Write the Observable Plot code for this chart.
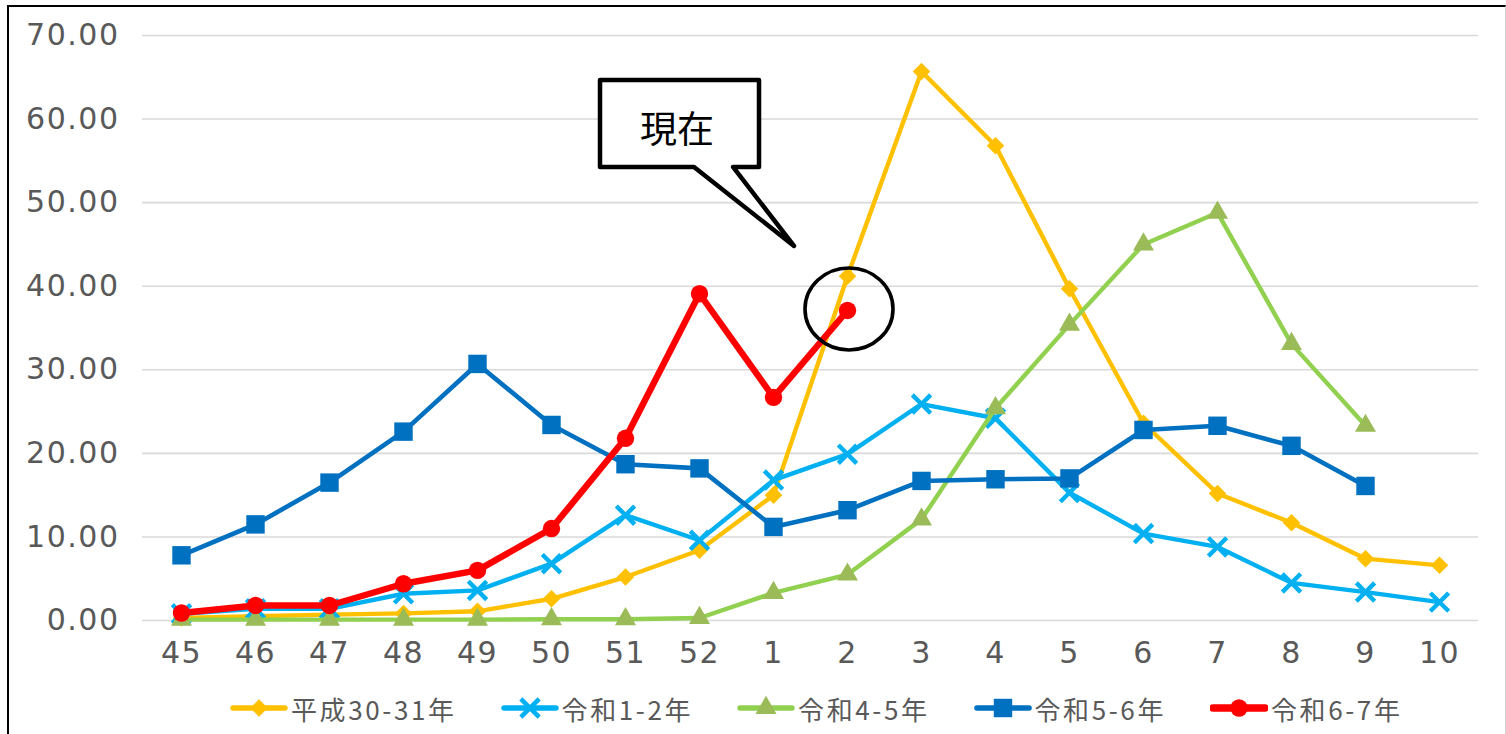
<!DOCTYPE html>
<html>
<head>
<meta charset="utf-8">
<script src="https://cdn.jsdelivr.net/npm/d3@7"></script>
<script src="https://cdn.jsdelivr.net/npm/@observablehq/plot@0.6"></script>
<style>
  html, body { margin: 0; padding: 0; background: #fff; overflow: hidden; width: 1506px; height: 734px; }
  #frame { position: absolute; left: 7px; top: 5px; width: 1499px; height: 800px; box-sizing: border-box;
           border-top: 2px solid #000; border-left: 2px solid #000; border-right: 1px solid #d0d0d0; }
  #chart { position: absolute; left: 0; top: 0; }
  #chart svg g[aria-label="y-axis tick label"] text,
  #chart svg g[aria-label="x-axis tick label"] text { letter-spacing: 1.5px; }
  #legend { position: absolute; left: 230px; top: 690px; height: 36px; display: flex; align-items: center;
            font-family: "Noto Sans CJK JP", sans-serif; font-size: 26px; color: #595959; letter-spacing: 2.6px; }
  .item { display: flex; align-items: center; margin-right: 44px; }
  .item svg { margin-right: 3px; }
</style>
</head>
<body>
<div id="frame"></div>
<div id="chart"></div>
<div id="legend"></div>
<script>
// ---- data ----
const weeks = ["45","46","47","48","49","50","51","52","1","2","3","4","5","6","7","8","9","10"];
const seriesNames = ["平成30-31年","令和1-2年","令和4-5年","令和5-6年","令和6-7年"];
const h30_31 = [0.3,0.5,0.7,0.85,1.1,2.6,5.2,8.4,15.0,41.2,65.7,56.8,39.7,23.6,15.2,11.7,7.4,6.6];
const r1_2   = [0.8,1.4,1.4,3.2,3.6,6.8,12.6,9.6,16.8,19.9,25.9,24.2,15.3,10.4,8.8,4.5,3.4,2.2];
const r4_5   = [0.1,0.1,0.1,0.1,0.1,0.15,0.15,0.3,3.3,5.5,12.1,25.4,35.4,45.0,48.8,33.1,23.3];
const r5_6   = [7.8,11.5,16.5,22.6,30.7,23.4,18.7,18.2,11.2,13.2,16.7,16.9,17.0,22.8,23.3,20.9,16.1];
const r6_7   = [0.9,1.8,1.8,4.4,6.0,11.0,21.8,39.1,26.7,37.1];
const yTicks = [0,10,20,30,40,50,60,70];
const calloutText = "現在";

const values = [h30_31, r1_2, r4_5, r5_6, r6_7];
const lineColors = ["#FFC000","#00B0F0","#92D050","#0070C0","#FF0000"];
const markColors = ["#FFC000","#00B0F0","#9BBB59","#0070C0","#FF0000"];
const symbols = ["diamond2","times","triangle","square","circle"];
const radii = [7.9, 8.4, 7.8, 10.4, 8.7];
const widths = [4.4, 4.4, 4.4, 4.6, 6.4];

const rows = values.map((arr, s) => arr.map((v, i) => ({series: seriesNames[s], week: weeks[i], value: v})));

const AXIS_FONT = "DejaVu Sans, sans-serif";

const marks = [
  Plot.gridY(yTicks, {stroke: "#d9d9d9", strokeOpacity: 1, strokeWidth: 1.6})
];
rows.forEach((data, s) => {
  marks.push(Plot.line(data, {x: "week", y: "value", stroke: lineColors[s], strokeWidth: widths[s], strokeLinejoin: "round", strokeLinecap: "round"}));
  if (symbols[s] === "times") {
    marks.push(Plot.dot(data, {x: "week", y: "value", symbol: "times", r: radii[s], stroke: markColors[s], strokeWidth: 4.4, fill: "none"}));
  } else {
    marks.push(Plot.dot(data, {x: "week", y: "value", symbol: symbols[s], r: radii[s], fill: markColors[s], stroke: "none"}));
  }
});

// callout anchored to the latest red point
const anchorWeek = weeks[r6_7.length - 1];
const anchorVal = r6_7[r6_7.length - 1];
marks.push((index, scales, vals, dims, context) => {
  const doc = context.document;
  const ns = "http://www.w3.org/2000/svg";
  const g = doc.createElementNS(ns, "g");
  const cx = scales.x(anchorWeek), cy = scales.y(anchorVal);
  const el = doc.createElementNS(ns, "ellipse");
  el.setAttribute("cx", cx + 2); el.setAttribute("cy", cy - 1);
  el.setAttribute("rx", 44); el.setAttribute("ry", 41);
  el.setAttribute("fill", "none"); el.setAttribute("stroke", "#000"); el.setAttribute("stroke-width", 3.6);
  g.appendChild(el);
  const L = cx - 247, R = cx - 88, T = cy - 230, B = cy - 143;
  const p = doc.createElementNS(ns, "path");
  p.setAttribute("d", `M${L},${T}H${R}V${B}H${cx-114}L${cx-53},${cy-64}L${cx-153},${B}H${L}Z`);
  p.setAttribute("fill", "#fff"); p.setAttribute("stroke", "#000"); p.setAttribute("stroke-width", 4.5);
  p.setAttribute("stroke-linejoin", "round");
  g.appendChild(p);
  const t = doc.createElementNS(ns, "text");
  t.setAttribute("x", cx - 170); t.setAttribute("y", cy - 183);
  t.setAttribute("text-anchor", "middle"); t.setAttribute("dominant-baseline", "central");
  t.setAttribute("font-family", "Noto Sans CJK JP, sans-serif"); t.setAttribute("font-size", 37);
  t.setAttribute("fill", "#000");
  t.textContent = calloutText;
  g.appendChild(t);
  return g;
});

marks.push(Plot.axisY(yTicks, {tickSize: 0, tickPadding: 23, tickFormat: d => d.toFixed(2), fontSize: 30, fill: "#595959", fontFamily: AXIS_FONT}));
marks.push(Plot.axisX({tickSize: 0, tickPadding: 21, fontSize: 30, fill: "#595959", fontFamily: AXIS_FONT}));

const chart = Plot.plot({
  width: 1506,
  height: 690,
  marginLeft: 142,
  marginRight: 28,
  marginTop: 35,
  marginBottom: 70,
  x: {type: "point", domain: weeks, padding: 0.5, label: null},
  y: {domain: [0, 70], label: null},
  style: {background: "transparent", overflow: "visible"},
  marks
});
document.getElementById("chart").appendChild(chart);

// legend
const legend = document.getElementById("legend");
const symMap = {diamond2: d3.symbolDiamond2, times: d3.symbolTimes, triangle: d3.symbolTriangle, square: d3.symbolSquare, circle: d3.symbolCircle};
seriesNames.forEach((name, s) => {
  const item = document.createElement("div");
  item.className = "item";
  const svg = d3.create("svg").attr("width", 58).attr("height", 30);
  svg.append("line").attr("x1", 3).attr("x2", 55).attr("y1", 15).attr("y2", 15)
    .attr("stroke", lineColors[s]).attr("stroke-width", widths[s] + 1).attr("stroke-linecap", "round");
  const size = Math.PI * radii[s] * radii[s];
  const path = svg.append("path").attr("transform", "translate(29,15)").attr("d", d3.symbol(symMap[symbols[s]], size)());
  if (symbols[s] === "times") path.attr("stroke", markColors[s]).attr("stroke-width", 4.4).attr("fill", "none");
  else path.attr("fill", markColors[s]);
  item.appendChild(svg.node());
  const span = document.createElement("span");
  span.textContent = name;
  item.appendChild(span);
  legend.appendChild(item);
});
</script>
</body>
</html>
